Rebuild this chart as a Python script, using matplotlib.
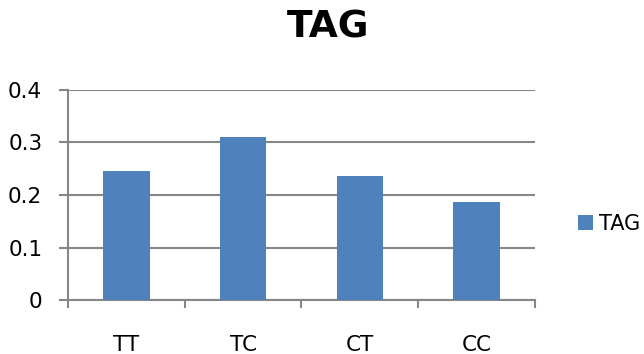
import numpy as np
import matplotlib.pyplot as plt

# genotype groups and TAG values
genotypes = ['TT', 'TC', 'CT', 'CC']
tag = [0.246, 0.310, 0.237, 0.186]

bar_color = '#4F81BD'
grid_color = '#868686'

fig = plt.figure(figsize=(6.44, 3.54), dpi=100)
ax = fig.add_axes([0.1056, 0.1525, 0.7251, 0.5933])

x = np.arange(len(genotypes))
ax.bar(x, tag, width=0.4, color=bar_color, label='TAG', zorder=3)

ax.set_xlim(-0.5, len(genotypes) - 0.5)
ax.set_ylim(0, 0.4)
ax.set_yticks([0, 0.1, 0.2, 0.3, 0.4])
ax.set_yticklabels(['0', '0.1', '0.2', '0.3', '0.4'])
ax.set_xticks(x)
ax.set_xticklabels(genotypes)
ax.set_xticks(np.arange(-0.5, len(genotypes)), minor=True)

ax.yaxis.grid(True, color=grid_color, linewidth=1.5, zorder=0)
for side in ['top', 'right']:
    ax.spines[side].set_visible(False)
for side in ['left', 'bottom']:
    ax.spines[side].set_color(grid_color)
    ax.spines[side].set_linewidth(1.5)

ax.tick_params(axis='x', which='major', length=0, pad=25, labelsize=15.5)
ax.tick_params(axis='x', which='minor', length=5.5, width=1.5, color=grid_color)
ax.tick_params(axis='y', length=6.5, width=1.5, color=grid_color, pad=12, labelsize=15.5)

fig.text(0.509, 0.921, 'TAG', ha='center', va='center', fontsize=27, fontweight='bold')

ax.legend(loc='center left', bbox_to_anchor=(1.092, 0.362), frameon=False,
          fontsize=15, handlelength=0.72, handleheight=0.7, handletextpad=0.29,
          borderpad=0, borderaxespad=0)

fig.savefig('out.png', dpi=100)
